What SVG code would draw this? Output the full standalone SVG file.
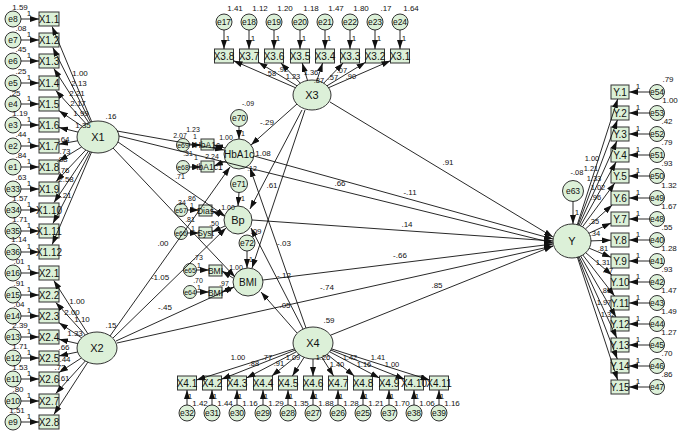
<svg xmlns="http://www.w3.org/2000/svg" width="678" height="433" viewBox="0 0 678 433">
<style>
text{font-family:'Liberation Sans',Arial,sans-serif;fill:#111}
.n{fill:#dcf0d8;stroke:#333;stroke-width:1}
.t{font-size:10px;text-anchor:middle}
.ti{font-size:8.5px;text-anchor:middle}
.m{font-size:11px;text-anchor:middle}
.e{font-size:8.5px;text-anchor:middle}
.ee{font-size:7px;text-anchor:middle}
.s{font-size:8px;text-anchor:middle}
.s7{font-size:7px}
.s75{font-size:7.5px}
.c line{stroke:#111;stroke-width:0.9;marker-end:url(#ah)}
</style>
<defs><marker id="ah" markerWidth="9" markerHeight="6" refX="9" refY="3" orient="auto" markerUnits="userSpaceOnUse"><path d="M0,0L9,3L0,6z" fill="#111"/></marker></defs>
<rect width="678" height="433" fill="#fff"/>

<!-- latent nodes -->
<g id="X1"><ellipse class="n" cx="98" cy="137" rx="21" ry="16"/><text class="m" x="98" y="141">X1</text></g>
<g id="X2"><ellipse class="n" cx="97" cy="348" rx="20" ry="16"/><text class="m" x="97" y="352">X2</text></g>
<g id="X3"><ellipse class="n" cx="312" cy="95" rx="19" ry="15"/><text class="m" x="312" y="99">X3</text></g>
<g id="X4"><ellipse class="n" cx="313" cy="343" rx="20" ry="16"/><text class="m" x="313" y="347">X4</text></g>
<g id="Y"><ellipse class="n" cx="572" cy="241" rx="19" ry="17"/><text class="m" x="572" y="245">Y</text></g>
<g id="e63"><circle class="n" cx="573" cy="191" r="10.5"/><text class="e" x="573" y="194">e63</text></g>
<g id="HbA1c"><ellipse class="n" cx="239" cy="154" rx="15" ry="15"/><text class="t" x="239" y="157.5">HbA1c</text></g>
<g id="e70"><circle class="n" cx="239" cy="118" r="8.5"/><text class="e" x="239" y="121">e70</text></g>
<g id="e71"><circle class="n" cx="239" cy="184" r="8.5"/><text class="e" x="239" y="187">e71</text></g>
<g id="Bp"><ellipse class="n" cx="238" cy="220" rx="14" ry="14"/><text class="m" x="238" y="224">Bp</text></g>
<g id="e72"><circle class="n" cx="247" cy="243" r="8"/><text class="e" x="247" y="246">e72</text></g>
<g id="BMI"><ellipse class="n" cx="248" cy="282" rx="15" ry="14"/><text class="t" x="248" y="285.5">BMI</text></g>

<!-- mediator indicators -->
<g id="HbA1c_1"><rect class="n" x="201" y="139" width="13" height="11"/><text class="ti" x="207.5" y="147.5">HbA1c</text></g>
<g id="HbA1c_2"><rect class="n" x="201" y="161" width="13" height="11"/><text class="ti" x="207.5" y="169.5">HbA1c1</text></g>
<g id="e69"><circle class="n" cx="183" cy="145" r="6.5"/><text class="ee" x="183" y="147.5">e69</text></g>
<g id="e68"><circle class="n" cx="183" cy="167" r="6.5"/><text class="ee" x="183" y="169.5">e68</text></g>
<g id="Dias"><rect class="n" x="199" y="205" width="13" height="11"/><text class="ti" x="205.5" y="213.5">Dias</text></g>
<g id="Syst"><rect class="n" x="199" y="227" width="13" height="11"/><text class="ti" x="205.5" y="235.5">Syst</text></g>
<g id="e67"><circle class="n" cx="181" cy="210" r="6.5"/><text class="ee" x="181" y="212.5">e67</text></g>
<g id="e66"><circle class="n" cx="181" cy="233" r="6.5"/><text class="ee" x="181" y="235.5">e66</text></g>
<g id="BMI_1"><rect class="n" x="209" y="265" width="13" height="11"/><text class="ti" x="215.5" y="273.5">BMI</text></g>
<g id="BMI_2"><rect class="n" x="209" y="287" width="13" height="11"/><text class="ti" x="215.5" y="295.5">BMI</text></g>
<g id="e65"><circle class="n" cx="190" cy="270" r="6.5"/><text class="ee" x="190" y="272.5">e65</text></g>
<g id="e64"><circle class="n" cx="190" cy="292" r="6.5"/><text class="ee" x="190" y="294.5">e64</text></g>

<!-- left indicators -->
<g id="X1_1"><rect class="n" x="39" y="12" width="20" height="14"/><text class="t" x="49" y="22.5">X1.1</text></g>
<g id="X1_2"><rect class="n" x="39" y="33" width="20" height="14"/><text class="t" x="49" y="43.5">X1.2</text></g>
<g id="X1_3"><rect class="n" x="39" y="54" width="20" height="14"/><text class="t" x="49" y="64.5">X1.3</text></g>
<g id="X1_4"><rect class="n" x="39" y="76" width="20" height="14"/><text class="t" x="49" y="86.5">X1.4</text></g>
<g id="X1_5"><rect class="n" x="39" y="97" width="20" height="14"/><text class="t" x="49" y="107.5">X1.5</text></g>
<g id="X1_6"><rect class="n" x="39" y="118" width="20" height="14"/><text class="t" x="49" y="128.5">X1.6</text></g>
<g id="X1_7"><rect class="n" x="39" y="139" width="20" height="14"/><text class="t" x="49" y="149.5">X1.7</text></g>
<g id="X1_8"><rect class="n" x="39" y="160" width="20" height="14"/><text class="t" x="49" y="170.5">X1.8</text></g>
<g id="X1_9"><rect class="n" x="39" y="182" width="20" height="14"/><text class="t" x="49" y="192.5">X1.9</text></g>
<g id="X1_10"><rect class="n" x="39" y="203" width="20" height="14"/><text class="t" x="49" y="213.5">X1.10</text></g>
<g id="X1_11"><rect class="n" x="39" y="224" width="20" height="14"/><text class="t" x="49" y="234.5">X1.11</text></g>
<g id="X1_12"><rect class="n" x="39" y="245" width="20" height="14"/><text class="t" x="49" y="255.5">X1.12</text></g>
<g id="X2_1"><rect class="n" x="39" y="266" width="20" height="14"/><text class="t" x="49" y="276.5">X2.1</text></g>
<g id="X2_2"><rect class="n" x="39" y="288" width="20" height="14"/><text class="t" x="49" y="298.5">X2.2</text></g>
<g id="X2_3"><rect class="n" x="39" y="309" width="20" height="14"/><text class="t" x="49" y="319.5">X2.3</text></g>
<g id="X2_4"><rect class="n" x="39" y="330" width="20" height="14"/><text class="t" x="49" y="340.5">X2.4</text></g>
<g id="X2_5"><rect class="n" x="39" y="351" width="20" height="14"/><text class="t" x="49" y="361.5">X2.5</text></g>
<g id="X2_6"><rect class="n" x="39" y="372" width="20" height="14"/><text class="t" x="49" y="382.5">X2.6</text></g>
<g id="X2_7"><rect class="n" x="39" y="394" width="20" height="14"/><text class="t" x="49" y="404.5">X2.7</text></g>
<g id="X2_8"><rect class="n" x="39" y="415" width="20" height="14"/><text class="t" x="49" y="425.5">X2.8</text></g>

<g id="e8"><circle class="n" cx="13" cy="19" r="8"/><text class="e" x="13" y="22">e8</text></g>
<g id="e7"><circle class="n" cx="13" cy="40" r="8"/><text class="e" x="13" y="43">e7</text></g>
<g id="e6"><circle class="n" cx="13" cy="61" r="8"/><text class="e" x="13" y="64">e6</text></g>
<g id="e5"><circle class="n" cx="13" cy="83" r="8"/><text class="e" x="13" y="86">e5</text></g>
<g id="e4"><circle class="n" cx="13" cy="104" r="8"/><text class="e" x="13" y="107">e4</text></g>
<g id="e3"><circle class="n" cx="13" cy="125" r="8"/><text class="e" x="13" y="128">e3</text></g>
<g id="e2"><circle class="n" cx="13" cy="146" r="8"/><text class="e" x="13" y="149">e2</text></g>
<g id="e1"><circle class="n" cx="13" cy="167" r="8"/><text class="e" x="13" y="170">e1</text></g>
<g id="e33"><circle class="n" cx="13" cy="189" r="8"/><text class="e" x="13" y="192">e33</text></g>
<g id="e34"><circle class="n" cx="13" cy="210" r="8"/><text class="e" x="13" y="213">e34</text></g>
<g id="e35"><circle class="n" cx="13" cy="231" r="8"/><text class="e" x="13" y="234">e35</text></g>
<g id="e36"><circle class="n" cx="13" cy="252" r="8"/><text class="e" x="13" y="255">e36</text></g>
<g id="e16"><circle class="n" cx="13" cy="273" r="8"/><text class="e" x="13" y="276">e16</text></g>
<g id="e15"><circle class="n" cx="13" cy="295" r="8"/><text class="e" x="13" y="298">e15</text></g>
<g id="e14"><circle class="n" cx="13" cy="316" r="8"/><text class="e" x="13" y="319">e14</text></g>
<g id="e13"><circle class="n" cx="13" cy="337" r="8"/><text class="e" x="13" y="340">e13</text></g>
<g id="e12"><circle class="n" cx="13" cy="358" r="8"/><text class="e" x="13" y="361">e12</text></g>
<g id="e11"><circle class="n" cx="13" cy="379" r="8"/><text class="e" x="13" y="382">e11</text></g>
<g id="e10"><circle class="n" cx="13" cy="401" r="8"/><text class="e" x="13" y="404">e10</text></g>
<g id="e9"><circle class="n" cx="13" cy="422" r="8"/><text class="e" x="13" y="425">e9</text></g>

<!-- top indicators -->
<g id="X3_8"><rect class="n" x="214.5" y="49" width="19" height="14"/><text class="t" x="224" y="59.5">X3.8</text></g>
<g id="X3_7"><rect class="n" x="239.5" y="49" width="19" height="14"/><text class="t" x="249" y="59.5">X3.7</text></g>
<g id="X3_6"><rect class="n" x="264.5" y="49" width="19" height="14"/><text class="t" x="274" y="59.5">X3.6</text></g>
<g id="X3_5"><rect class="n" x="290.5" y="49" width="19" height="14"/><text class="t" x="300" y="59.5">X3.5</text></g>
<g id="X3_4"><rect class="n" x="315.5" y="49" width="19" height="14"/><text class="t" x="325" y="59.5">X3.4</text></g>
<g id="X3_3"><rect class="n" x="340.5" y="49" width="19" height="14"/><text class="t" x="350" y="59.5">X3.3</text></g>
<g id="X3_2"><rect class="n" x="365.5" y="49" width="19" height="14"/><text class="t" x="375" y="59.5">X3.2</text></g>
<g id="X3_1"><rect class="n" x="390.5" y="49" width="19" height="14"/><text class="t" x="400" y="59.5">X3.1</text></g>
<g id="e17"><circle class="n" cx="224" cy="22" r="8"/><text class="e" x="224" y="25">e17</text></g>
<g id="e18"><circle class="n" cx="249" cy="22" r="8"/><text class="e" x="249" y="25">e18</text></g>
<g id="e19"><circle class="n" cx="274" cy="22" r="8"/><text class="e" x="274" y="25">e19</text></g>
<g id="e20"><circle class="n" cx="300" cy="22" r="8"/><text class="e" x="300" y="25">e20</text></g>
<g id="e21"><circle class="n" cx="325" cy="22" r="8"/><text class="e" x="325" y="25">e21</text></g>
<g id="e22"><circle class="n" cx="350" cy="22" r="8"/><text class="e" x="350" y="25">e22</text></g>
<g id="e23"><circle class="n" cx="375" cy="22" r="8"/><text class="e" x="375" y="25">e23</text></g>
<g id="e24"><circle class="n" cx="400" cy="22" r="8"/><text class="e" x="400" y="25">e24</text></g>

<!-- bottom indicators -->
<g id="X4_1"><rect class="n" x="177.5" y="376" width="19" height="14"/><text class="t" x="187" y="386.5">X4.1</text></g>
<g id="X4_2"><rect class="n" x="202.5" y="376" width="19" height="14"/><text class="t" x="212" y="386.5">X4.2</text></g>
<g id="X4_3"><rect class="n" x="227.5" y="376" width="19" height="14"/><text class="t" x="237" y="386.5">X4.3</text></g>
<g id="X4_4"><rect class="n" x="253.5" y="376" width="19" height="14"/><text class="t" x="263" y="386.5">X4.4</text></g>
<g id="X4_5"><rect class="n" x="278.5" y="376" width="19" height="14"/><text class="t" x="288" y="386.5">X4.5</text></g>
<g id="X4_6"><rect class="n" x="303.5" y="376" width="19" height="14"/><text class="t" x="313" y="386.5">X4.6</text></g>
<g id="X4_7"><rect class="n" x="328.5" y="376" width="19" height="14"/><text class="t" x="338" y="386.5">X4.7</text></g>
<g id="X4_8"><rect class="n" x="353.5" y="376" width="19" height="14"/><text class="t" x="363" y="386.5">X4.8</text></g>
<g id="X4_9"><rect class="n" x="379.5" y="376" width="19" height="14"/><text class="t" x="389" y="386.5">X4.9</text></g>
<g id="X4_10"><rect class="n" x="404.5" y="376" width="19" height="14"/><text class="t" x="414" y="386.5">X4.10</text></g>
<g id="X4_11"><rect class="n" x="429.5" y="376" width="19" height="14"/><text class="t" x="439" y="386.5">X4.11</text></g>
<g id="e32"><circle class="n" cx="187" cy="413" r="8"/><text class="e" x="187" y="416">e32</text></g>
<g id="e31"><circle class="n" cx="212" cy="413" r="8"/><text class="e" x="212" y="416">e31</text></g>
<g id="e30"><circle class="n" cx="237" cy="413" r="8"/><text class="e" x="237" y="416">e30</text></g>
<g id="e29"><circle class="n" cx="263" cy="413" r="8"/><text class="e" x="263" y="416">e29</text></g>
<g id="e28"><circle class="n" cx="288" cy="413" r="8"/><text class="e" x="288" y="416">e28</text></g>
<g id="e27"><circle class="n" cx="313" cy="413" r="8"/><text class="e" x="313" y="416">e27</text></g>
<g id="e26"><circle class="n" cx="338" cy="413" r="8"/><text class="e" x="338" y="416">e26</text></g>
<g id="e25"><circle class="n" cx="363" cy="413" r="8"/><text class="e" x="363" y="416">e25</text></g>
<g id="e37"><circle class="n" cx="389" cy="413" r="8"/><text class="e" x="389" y="416">e37</text></g>
<g id="e38"><circle class="n" cx="414" cy="413" r="8"/><text class="e" x="414" y="416">e38</text></g>
<g id="e39"><circle class="n" cx="439" cy="413" r="8"/><text class="e" x="439" y="416">e39</text></g>

<!-- right indicators -->
<g id="Y_1"><rect class="n" x="611" y="85" width="18" height="14"/><text class="t" x="620" y="95.5">Y.1</text></g>
<g id="Y_2"><rect class="n" x="611" y="106" width="18" height="14"/><text class="t" x="620" y="116.5">Y.2</text></g>
<g id="Y_3"><rect class="n" x="611" y="127" width="18" height="14"/><text class="t" x="620" y="137.5">Y.3</text></g>
<g id="Y_4"><rect class="n" x="611" y="148" width="18" height="14"/><text class="t" x="620" y="158.5">Y.4</text></g>
<g id="Y_5"><rect class="n" x="611" y="169" width="18" height="14"/><text class="t" x="620" y="179.5">Y.5</text></g>
<g id="Y_6"><rect class="n" x="611" y="191" width="18" height="14"/><text class="t" x="620" y="201.5">Y.6</text></g>
<g id="Y_7"><rect class="n" x="611" y="212" width="18" height="14"/><text class="t" x="620" y="222.5">Y.7</text></g>
<g id="Y_8"><rect class="n" x="611" y="233" width="18" height="14"/><text class="t" x="620" y="243.5">Y.8</text></g>
<g id="Y_9"><rect class="n" x="611" y="254" width="18" height="14"/><text class="t" x="620" y="264.5">Y.9</text></g>
<g id="Y_10"><rect class="n" x="611" y="275" width="18" height="14"/><text class="t" x="620" y="285.5">Y.10</text></g>
<g id="Y_11"><rect class="n" x="611" y="296" width="18" height="14"/><text class="t" x="620" y="306.5">Y.11</text></g>
<g id="Y_12"><rect class="n" x="611" y="317" width="18" height="14"/><text class="t" x="620" y="327.5">Y.12</text></g>
<g id="Y_13"><rect class="n" x="611" y="338" width="18" height="14"/><text class="t" x="620" y="348.5">Y.13</text></g>
<g id="Y_14"><rect class="n" x="611" y="359" width="18" height="14"/><text class="t" x="620" y="369.5">Y.14</text></g>
<g id="Y_15"><rect class="n" x="611" y="380" width="18" height="14"/><text class="t" x="620" y="390.5">Y.15</text></g>
<g id="e54"><circle class="n" cx="657" cy="92" r="7.5"/><text class="e" x="657" y="95">e54</text></g>
<g id="e53"><circle class="n" cx="657" cy="113" r="7.5"/><text class="e" x="657" y="116">e53</text></g>
<g id="e52"><circle class="n" cx="657" cy="134" r="7.5"/><text class="e" x="657" y="137">e52</text></g>
<g id="e51"><circle class="n" cx="657" cy="155" r="7.5"/><text class="e" x="657" y="158">e51</text></g>
<g id="e50"><circle class="n" cx="657" cy="176" r="7.5"/><text class="e" x="657" y="179">e50</text></g>
<g id="e49"><circle class="n" cx="657" cy="198" r="7.5"/><text class="e" x="657" y="201">e49</text></g>
<g id="e48"><circle class="n" cx="657" cy="219" r="7.5"/><text class="e" x="657" y="222">e48</text></g>
<g id="e40"><circle class="n" cx="657" cy="240" r="7.5"/><text class="e" x="657" y="243">e40</text></g>
<g id="e41"><circle class="n" cx="657" cy="261" r="7.5"/><text class="e" x="657" y="264">e41</text></g>
<g id="e42"><circle class="n" cx="657" cy="282" r="7.5"/><text class="e" x="657" y="285">e42</text></g>
<g id="e43"><circle class="n" cx="657" cy="303" r="7.5"/><text class="e" x="657" y="306">e43</text></g>
<g id="e44"><circle class="n" cx="657" cy="324" r="7.5"/><text class="e" x="657" y="327">e44</text></g>
<g id="e45"><circle class="n" cx="657" cy="345" r="7.5"/><text class="e" x="657" y="348">e45</text></g>
<g id="e46"><circle class="n" cx="657" cy="366" r="7.5"/><text class="e" x="657" y="369">e46</text></g>
<g id="e47"><circle class="n" cx="657" cy="387" r="7.5"/><text class="e" x="657" y="390">e47</text></g>

<!-- connectors -->
<g id="connectors" class="c">
<line x1="21" y1="19" x2="39" y2="19"/><line x1="21" y1="40" x2="39" y2="40"/><line x1="21" y1="61" x2="39" y2="61"/><line x1="21" y1="83" x2="39" y2="83"/><line x1="21" y1="104" x2="39" y2="104"/><line x1="21" y1="125" x2="39" y2="125"/><line x1="21" y1="146" x2="39" y2="146"/><line x1="21" y1="167" x2="39" y2="167"/><line x1="21" y1="189" x2="39" y2="189"/><line x1="21" y1="210" x2="39" y2="210"/><line x1="21" y1="231" x2="39" y2="231"/><line x1="21" y1="252" x2="39" y2="252"/><line x1="21" y1="273" x2="39" y2="273"/><line x1="21" y1="295" x2="39" y2="295"/><line x1="21" y1="316" x2="39" y2="316"/><line x1="21" y1="337" x2="39" y2="337"/><line x1="21" y1="358" x2="39" y2="358"/><line x1="21" y1="379" x2="39" y2="379"/><line x1="21" y1="401" x2="39" y2="401"/><line x1="21" y1="422" x2="39" y2="422"/>
<line x1="91.7" y1="121.7" x2="52.1" y2="26.5"/><line x1="90.5" y1="122.1" x2="52.8" y2="47.5"/><line x1="88.7" y1="122.6" x2="53.8" y2="68.5"/><line x1="86.1" y1="123.8" x2="55.8" y2="90.5"/><line x1="82.3" y1="126.4" x2="59" y2="110.7"/><line x1="78" y1="132.1" x2="59" y2="127.4"/><line x1="77.6" y1="140.8" x2="59" y2="144.2"/><line x1="81.6" y1="147" x2="59" y2="160.9"/><line x1="85.8" y1="150" x2="56.1" y2="181.5"/><line x1="88.4" y1="151.2" x2="54" y2="202.5"/><line x1="90.2" y1="151.9" x2="52.9" y2="223.5"/><line x1="91.5" y1="152.2" x2="52.2" y2="244.5"/>
<line x1="87.9" y1="333.8" x2="53.8" y2="280.5"/><line x1="85.3" y1="335" x2="55.8" y2="302.5"/><line x1="81.6" y1="337.8" x2="59" y2="322.7"/><line x1="77.8" y1="343.6" x2="59" y2="339.3"/><line x1="77.6" y1="352" x2="59" y2="355.9"/><line x1="81.4" y1="358" x2="59" y2="372.5"/><line x1="85.3" y1="361" x2="55.8" y2="393.5"/><line x1="87.8" y1="362.2" x2="53.9" y2="414.5"/>
<line x1="224" y1="30" x2="224" y2="49"/><line x1="249" y1="30" x2="249" y2="49"/><line x1="274" y1="30" x2="274" y2="49"/><line x1="300" y1="30" x2="300" y2="49"/><line x1="325" y1="30" x2="325" y2="49"/><line x1="350" y1="30" x2="350" y2="49"/><line x1="375" y1="30" x2="375" y2="49"/><line x1="400" y1="30" x2="400" y2="49"/>
<line x1="295.4" y1="87.7" x2="233.5" y2="60.7"/><line x1="297" y1="85.8" x2="258.5" y2="62.3"/><line x1="300.3" y1="83.2" x2="280.9" y2="63"/><line x1="307.5" y1="80.4" x2="302.2" y2="63"/><line x1="316.9" y1="80.5" x2="322.6" y2="63"/><line x1="323.7" y1="83.2" x2="343.1" y2="63"/><line x1="327" y1="85.8" x2="365.5" y2="62.3"/><line x1="328.6" y1="87.7" x2="390.5" y2="60.7"/>
<line x1="187" y1="405" x2="187" y2="390"/><line x1="212" y1="405" x2="212" y2="390"/><line x1="237" y1="405" x2="237" y2="390"/><line x1="263" y1="405" x2="263" y2="390"/><line x1="288" y1="405" x2="288" y2="390"/><line x1="313" y1="405" x2="313" y2="390"/><line x1="338" y1="405" x2="338" y2="390"/><line x1="363" y1="405" x2="363" y2="390"/><line x1="389" y1="405" x2="389" y2="390"/><line x1="414" y1="405" x2="414" y2="390"/><line x1="439" y1="405" x2="439" y2="390"/>
<line x1="294.4" y1="348.9" x2="196.5" y2="380"/><line x1="295.1" y1="350.1" x2="221.5" y2="379.2"/><line x1="296.3" y1="351.8" x2="246.5" y2="378"/><line x1="298.9" y1="354.3" x2="271.8" y2="376"/><line x1="304.1" y1="357.3" x2="292.4" y2="376"/><line x1="313" y1="359" x2="313" y2="376"/><line x1="321.9" y1="357.3" x2="333.6" y2="376"/><line x1="327.1" y1="354.3" x2="354.3" y2="376"/><line x1="329.7" y1="351.8" x2="379.5" y2="378"/><line x1="330.9" y1="350.1" x2="404.5" y2="379.2"/><line x1="331.6" y1="348.9" x2="429.5" y2="380"/>
<line x1="649.5" y1="92" x2="629" y2="92"/><line x1="649.5" y1="113" x2="629" y2="113"/><line x1="649.5" y1="134" x2="629" y2="134"/><line x1="649.5" y1="155" x2="629" y2="155"/><line x1="649.5" y1="176" x2="629" y2="176"/><line x1="649.5" y1="198" x2="629" y2="198"/><line x1="649.5" y1="219" x2="629" y2="219"/><line x1="649.5" y1="240" x2="629" y2="240"/><line x1="649.5" y1="261" x2="629" y2="261"/><line x1="649.5" y1="282" x2="629" y2="282"/><line x1="649.5" y1="303" x2="629" y2="303"/><line x1="649.5" y1="324" x2="629" y2="324"/><line x1="649.5" y1="345" x2="629" y2="345"/><line x1="649.5" y1="366" x2="629" y2="366"/><line x1="649.5" y1="387" x2="629" y2="387"/>
<line x1="577.3" y1="224.7" x2="617.7" y2="99"/><line x1="578" y1="224.9" x2="617.4" y2="120"/><line x1="579.1" y1="225.2" x2="616.9" y2="141"/><line x1="580.5" y1="225.8" x2="616.1" y2="162"/><line x1="582.5" y1="226.8" x2="614.8" y2="183"/><line x1="585.4" y1="229" x2="612.2" y2="205"/><line x1="588.9" y1="233.3" x2="611" y2="223.1"/><line x1="591" y1="240.9" x2="611" y2="240.2"/><line x1="589.2" y1="248.2" x2="611" y2="257.3"/><line x1="585.7" y1="252.7" x2="611.8" y2="275"/><line x1="582.8" y1="255" x2="614.6" y2="296"/><line x1="580.7" y1="256.1" x2="616" y2="317"/><line x1="579.2" y1="256.7" x2="616.8" y2="338"/><line x1="578.2" y1="257.1" x2="617.3" y2="359"/><line x1="577.4" y1="257.3" x2="617.7" y2="380"/>
<line x1="573" y1="201.5" x2="573" y2="224"/>
<line x1="239" y1="126.5" x2="239" y2="139"/><line x1="239" y1="192.5" x2="238" y2="206"/><line x1="247" y1="251" x2="247" y2="268"/>
<line x1="189.5" y1="145" x2="201" y2="145"/><line x1="189.5" y1="167" x2="201" y2="167"/><line x1="225" y1="148" x2="214" y2="145"/><line x1="226" y1="161" x2="214" y2="166"/>
<line x1="187.5" y1="210" x2="199" y2="210"/><line x1="187.5" y1="233" x2="199" y2="233"/><line x1="224" y1="216" x2="212" y2="211"/><line x1="225" y1="226" x2="212" y2="232"/>
<line x1="196.5" y1="270" x2="209" y2="270"/><line x1="196.5" y1="292" x2="209" y2="292"/><line x1="233" y1="278" x2="222" y2="271"/><line x1="234" y1="287" x2="222" y2="292"/>
<line x1="117" y1="131" x2="224" y2="150"/>
<line x1="119" y1="136" x2="553" y2="243"/>
<line x1="118" y1="142" x2="225" y2="216"/>
<line x1="113" y1="148" x2="235" y2="277"/>
<line x1="110" y1="336" x2="230" y2="167"/>
<line x1="113" y1="338" x2="226" y2="228"/>
<line x1="116" y1="341" x2="234" y2="287"/>
<line x1="117" y1="343" x2="553" y2="246"/>
<line x1="297" y1="104" x2="251" y2="145"/>
<line x1="302" y1="110" x2="250" y2="209"/>
<line x1="305" y1="110" x2="252" y2="268"/>
<line x1="330" y1="102" x2="553" y2="237"/>
<line x1="306" y1="328" x2="250" y2="168"/>
<line x1="303" y1="329" x2="251" y2="228"/>
<line x1="297" y1="333" x2="261" y2="292"/>
<line x1="331" y1="335" x2="553" y2="246"/>
<line x1="254" y1="156" x2="553" y2="239"/>
<line x1="252" y1="220" x2="553" y2="241"/>
<line x1="263" y1="280" x2="553" y2="244"/>
</g>

<!-- labels -->
<g id="labels" class="s">
<text x="29" y="16">1</text><text x="29" y="37">1</text><text x="29" y="58">1</text><text x="29" y="80">1</text><text x="29" y="101">1</text><text x="29" y="122">1</text><text x="29" y="143">1</text><text x="29" y="164">1</text><text x="29" y="186">1</text><text x="29" y="207">1</text><text x="29" y="228">1</text><text x="29" y="249">1</text><text x="29" y="270">1</text><text x="29" y="292">1</text><text x="29" y="313">1</text><text x="29" y="334">1</text><text x="29" y="355">1</text><text x="29" y="376">1</text><text x="29" y="398">1</text><text x="29" y="419">1</text>
<text x="20" y="10">1.59</text><text x="21" y="31">.08</text><text x="21" y="52">.45</text><text x="21" y="74">.25</text><text x="15" y="96">.25</text><text x="20" y="116">1.19</text><text x="21" y="137">.44</text><text x="21" y="158">.84</text><text x="21" y="180">.63</text><text x="20" y="201">1.57</text><text x="20" y="222">1.71</text><text x="19" y="242">1.14</text><text x="19" y="264">.01</text><text x="19" y="286">.91</text><text x="19" y="307">.04</text><text x="20" y="328">2.39</text><text x="20" y="349">1.71</text><text x="20" y="370">1.53</text><text x="18" y="392">.80</text><text x="17" y="413">1.51</text>
<text x="80" y="76">1.00</text><text x="79" y="86">2.13</text><text x="77" y="96">2.21</text><text x="78" y="106">2.17</text><text x="81" y="116">1.99</text><text x="83" y="128">1.35</text><text x="64" y="142">.64</text><text x="65" y="154">.73</text><text x="62" y="162">.88</text><text x="64" y="173">.76</text><text x="66" y="182">2.58</text><text x="66" y="198">.21</text>
<text x="111" y="119">.16</text>
<text x="77" y="304">1.00</text><text x="72" y="315">2.00</text><text x="82" y="322">1.10</text><text x="75" y="336">1.33</text><text x="64" y="350">.66</text><text x="65" y="362">.44</text><text x="60" y="370">.72</text><text x="64" y="381">.61</text>
<text x="111" y="328">.15</text>
<text x="228" y="41">1</text><text x="253" y="41">1</text><text x="278" y="41">1</text><text x="304" y="41">1</text><text x="329" y="41">1</text><text x="354" y="41">1</text><text x="379" y="41">1</text><text x="404" y="41">1</text>
<text x="235" y="11">1.41</text><text x="260" y="11">1.12</text><text x="285" y="11">1.20</text><text x="311" y="11">1.18</text><text x="336" y="11">1.47</text><text x="361" y="11">1.80</text><text x="386" y="11">.17</text><text x="411" y="11">1.64</text>
<g class="s75"><text x="271" y="76">.58</text><text x="283" y="72">.92</text><text x="293" y="79">1.23</text><text x="311" y="75">1.36</text><text x="319" y="83">.87</text><text x="333" y="80">.57</text><text x="342" y="73">.07</text><text x="351" y="79">.90</text></g>
<text x="190" y="399">1</text><text x="215" y="399">1</text><text x="240" y="399">1</text><text x="266" y="399">1</text><text x="291" y="399">1</text><text x="316" y="399">1</text><text x="341" y="399">1</text><text x="366" y="399">1</text><text x="392" y="399">1</text><text x="417" y="399">1</text><text x="442" y="399">1</text>
<text x="200" y="406">1.42</text><text x="225" y="406">1.44</text><text x="250" y="406">1.16</text><text x="276" y="406">1.29</text><text x="301" y="406">1.35</text><text x="326" y="406">1.88</text><text x="351" y="406">1.28</text><text x="376" y="406">1.21</text><text x="402" y="406">1.70</text><text x="427" y="406">1.06</text><text x="452" y="406">1.16</text>
<g class="s75"><text x="238" y="360">1.00</text><text x="254" y="366">.88</text><text x="267" y="360">.77</text><text x="279" y="366">.91</text><text x="293" y="360">1.09</text><text x="323" y="360">1.26</text><text x="337" y="367">1.40</text><text x="350" y="360">1.42</text><text x="364" y="367">1.16</text><text x="378" y="360">1.41</text><text x="392" y="367">1.00</text></g>
<text x="329" y="323">.59</text>
<text x="638" y="89">1</text><text x="638" y="110">1</text><text x="638" y="131">1</text><text x="638" y="152">1</text><text x="638" y="173">1</text><text x="638" y="195">1</text><text x="638" y="216">1</text><text x="638" y="237">1</text><text x="638" y="258">1</text><text x="638" y="279">1</text><text x="638" y="300">1</text><text x="638" y="321">1</text><text x="638" y="342">1</text><text x="638" y="363">1</text><text x="638" y="384">1</text>
<text x="668" y="82">.79</text><text x="670" y="103">1.00</text><text x="667" y="124">.42</text><text x="667" y="145">.79</text><text x="667" y="166">.93</text><text x="669" y="188">1.32</text><text x="669" y="209">1.67</text><text x="667" y="230">.55</text><text x="669" y="251">1.28</text><text x="667" y="272">.93</text><text x="669" y="293">1.47</text><text x="669" y="314">1.49</text><text x="669" y="335">1.27</text><text x="667" y="356">.70</text><text x="667" y="377">.86</text>
<g class="s75"><text x="592" y="161">1.00</text><text x="591" y="171">1.21</text><text x="594" y="181">1.33</text><text x="598" y="190">1.02</text><text x="596" y="200">.96</text><text x="594" y="224">.35</text><text x="595" y="236">.34</text><text x="603" y="251">.81</text><text x="603" y="265">1.31</text><text x="608" y="273">.97</text><text x="606" y="293">.85</text><text x="604" y="305">1.97</text><text x="608" y="317">1.32</text>
<text x="577" y="175">-.08</text></g><text x="577" y="215">1</text>
<g class="s7"><text x="248" y="106">-.09</text><text x="243" y="136">1</text><text x="243" y="201">1</text><text x="251" y="262">1</text>
<text x="193" y="132">1.23</text><text x="180" y="138">2.07</text><text x="195" y="139">1</text><text x="226" y="140">1.00</text><text x="188" y="156">.31</text><text x="196" y="160">1</text><text x="212" y="159">2.24</text><text x="180" y="179">.71</text><text x="252" y="171">.12</text>
<text x="191" y="201">.86</text><text x="181" y="205">.34</text><text x="192" y="208">1</text><text x="228" y="210">1.00</text><text x="190" y="222">.81</text><text x="193" y="231">1</text><text x="214" y="226">.50</text>
<text x="198" y="260">.73</text><text x="199" y="268">1</text><text x="236" y="270">1.00</text><text x="198" y="283">.70</text><text x="199" y="290">1</text><text x="224" y="286">.97</text></g>
<text x="267" y="125">-.29</text><text x="263" y="156">1.08</text><text x="272" y="188">.61</text><text x="256" y="234">.09</text><text x="284" y="246">-.03</text><text x="284" y="278">-.12</text><text x="285" y="308">.05</text>
<text x="163" y="246">.00</text><text x="160" y="280">-1.05</text><text x="165" y="310">-.45</text>
<text x="340" y="186">.66</text><text x="410" y="195">-.11</text><text x="448" y="165">.91</text><text x="407" y="227">.14</text><text x="400" y="258">-.66</text><text x="327" y="290">-.74</text><text x="437" y="288">.85</text>
</g>
</svg>
